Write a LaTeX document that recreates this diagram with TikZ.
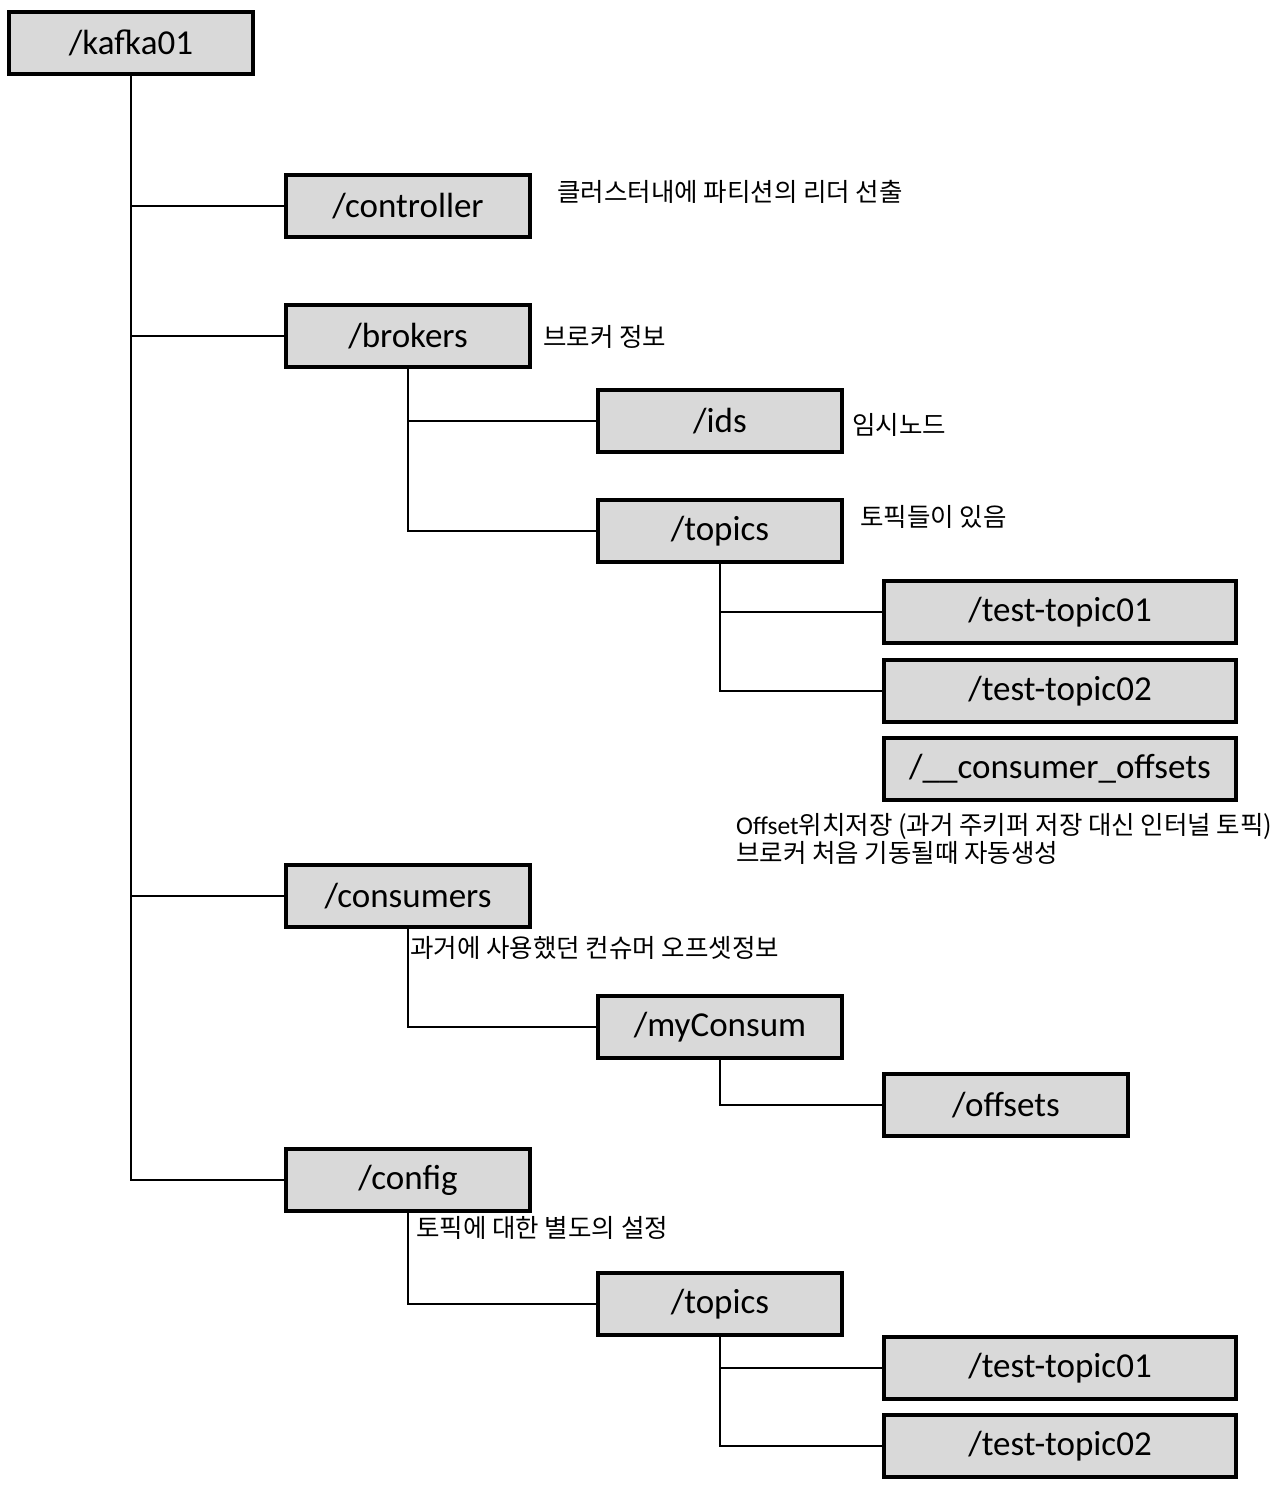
\documentclass[tikz,border=0pt]{standalone}
\usepackage{fontspec}
\setmainfont{Carlito}
\newfontfamily\kofont{Noto Sans CJK KR}
\definecolor{boxgray}{HTML}{D9D9D9}
\newcommand\dirsize{\fontsize{35}{42}\selectfont}
\newcommand\notesize{\fontsize{25.5}{28.5}\selectfont}
\begin{document}
\begin{tikzpicture}[
			x=1pt, y=-1pt,
			dir/.style={
					draw,
					line width=4pt,
					fill=boxgray,
					align=center,
					font=\dirsize,
					minimum width=244pt,
					minimum height=62pt,
					inner sep=0pt
				},
			wide/.style={minimum width=352pt},
			note/.style={anchor=west, inner sep=0pt, align=left, font=\kofont\notesize},
			branch/.style={draw, line width=2pt}
		]
		\useasboundingbox (0,0) rectangle (1278,1490);
		% directory boxes
		\node[dir] (kafka) at (131,43) {/kafka01};
		\node[dir] (controller) at (408,206) {/controller};
		\node[dir] (brokers) at (408,336) {/brokers};
		\node[dir] (ids) at (720,421) {/ids};
		\node[dir] (btopics) at (720,531) {/topics};
		\node[dir, wide] (btopic1) at (1060,612) {/test-topic01};
		\node[dir, wide] (btopic2) at (1060,691) {/test-topic02};
		\node[dir, wide] (offsettopic) at (1060,769) {/\_\_consumer\_offsets};
		\node[dir] (consumers) at (408,896) {/consumers};
		\node[dir] (myconsum) at (720,1027) {/myConsum};
		\node[dir] (offsets) at (1006,1105) {/offsets};
		\node[dir] (config) at (408,1180) {/config};
		\node[dir] (ctopics) at (720,1304) {/topics};
		\node[dir, wide] (ctopic1) at (1060,1368) {/test-topic01};
		\node[dir, wide] (ctopic2) at (1060,1446) {/test-topic02};
		% notes
		\node[note] (ctrlnote) at (557,192) {클러스터내에 파티션의 리더 선출};
		\node[note] (brokernote) at (543,337) {브로커 정보};
		\node[note] (idsnote) at (852,425) {임시노드};
		\node[note] (topicnote) at (860,517) {토픽들이 있음};
		\node[note, anchor=north west] (offsetnote) at (736,813) {{\rmfamily Offset}위치저장 (과거 주키퍼 저장 대신 인터널 토픽)\\브로커 처음 기동될때 자동생성};
		\node[note] (consumernote) at (410,948) {과거에 사용했던 컨슈머 오프셋정보};
		\node[note] (confignote) at (416,1228) {토픽에 대한 별도의 설정};
		% connectors
		\draw[branch] (kafka.south) |- (controller.west);
		\draw[branch] (kafka.south) |- (brokers.west);
		\draw[branch] (kafka.south) |- (consumers.west);
		\draw[branch] (kafka.south) |- (config.west);
		\draw[branch] (brokers.south) |- (ids.west);
		\draw[branch] (brokers.south) |- (btopics.west);
		\draw[branch] (btopics.south) |- (btopic1.west);
		\draw[branch] (btopics.south) |- (btopic2.west);
		\draw[branch] (consumers.south) |- (myconsum.west);
		\draw[branch] (myconsum.south) |- (offsets.west);
		\draw[branch] (config.south) |- (ctopics.west);
		\draw[branch] (ctopics.south) |- (ctopic1.west);
		\draw[branch] (ctopics.south) |- (ctopic2.west);
	\end{tikzpicture}
\end{document}
